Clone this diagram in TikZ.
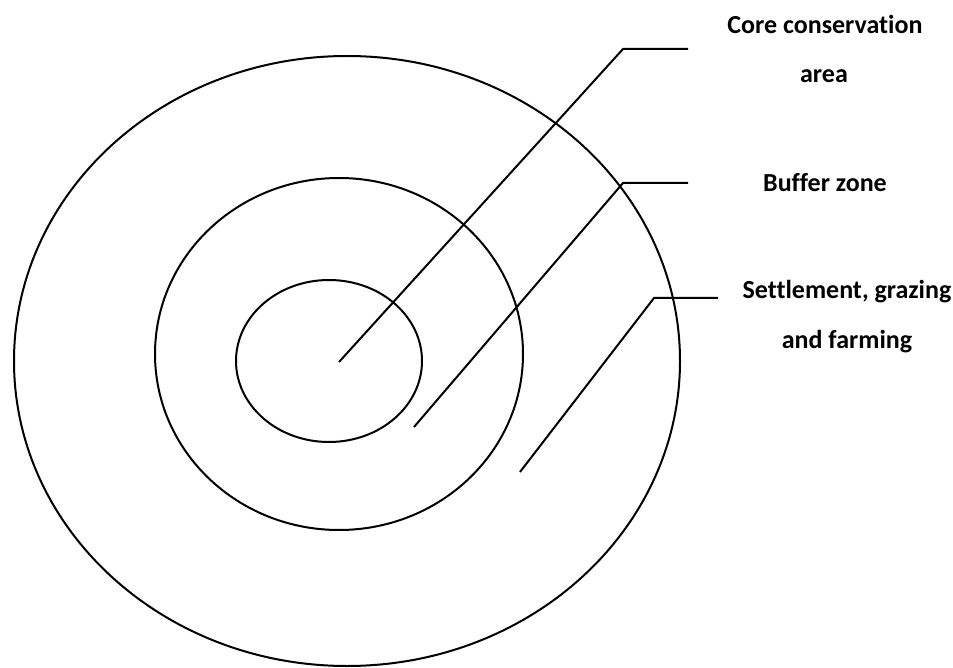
\documentclass[tikz,border=0pt]{standalone}
\usepackage{fontspec}
\setmainfont{Carlito}[Ligatures=NoCommon]
\tikzset{
  ring/.style={draw=black, line width=2pt},
  leader/.style={draw=black, line width=2pt},
  lbl/.style={font=\bfseries\fontsize{26}{30}\selectfont, inner sep=0pt, anchor=center}
}
\begin{document}
\begin{tikzpicture}[x=1pt,y=-1pt]
\useasboundingbox (0,0) rectangle (953,668);
% rings
\draw[ring] (347,361) ellipse [x radius=333, y radius=305];
\draw[ring] (339,354) ellipse [x radius=184, y radius=176];
\draw[ring] (329,361) ellipse [x radius=93, y radius=81];
% leader coordinates
\coordinate (s1) at (339,362);
\coordinate (k1) at (623,49);
\coordinate (e1) at (688,49);
\coordinate (s2) at (414,427);
\coordinate (k2) at (623,183);
\coordinate (e2) at (688,183);
\coordinate (s3) at (520,472);
\coordinate (k3) at (654,298);
\coordinate (e3) at (718,298);
\draw[leader] (s1) -- (k1) -- (e1);
\draw[leader] (s2) -- (k2) -- (e2);
\draw[leader] (s3) -- (k3) -- (e3);
% labels
\node[lbl] (core1) at (825,24) {Core conservation};
\node[lbl] (core2) at (824,76) {area};
\node[lbl] (buf) at (825,183) {Buffer zone};
\node[lbl] (set1) at (847,292) {Settlement, grazing};
\node[lbl] (set2) at (847,342) {and farming};
\end{tikzpicture}
\end{document}
